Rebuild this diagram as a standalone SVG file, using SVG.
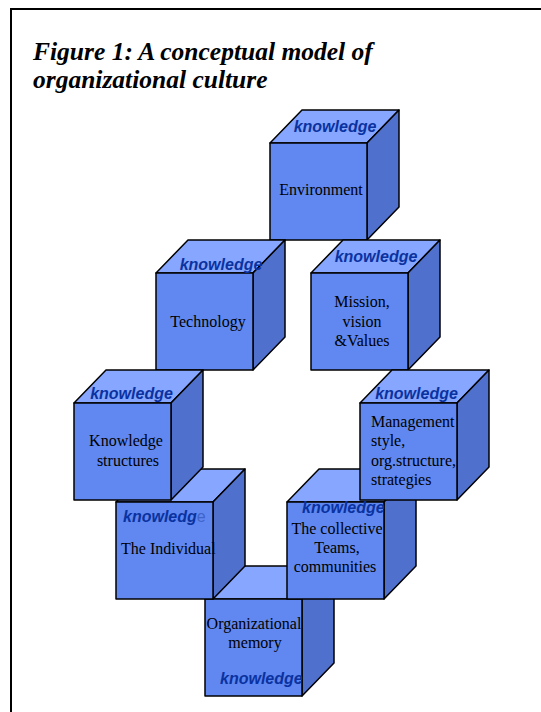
<svg xmlns="http://www.w3.org/2000/svg" xmlns:xlink="http://www.w3.org/1999/xlink" width="541" height="712" viewBox="0 0 541 712">
<style>
.front{fill:#6088f0;stroke:#000;stroke-width:1.5;stroke-linejoin:round}
.top{fill:#86a6ff;stroke:#000;stroke-width:1.5;stroke-linejoin:round}
.side{fill:#4f70cc;stroke:#000;stroke-width:1.5;stroke-linejoin:round}
.kn{font-family:"Liberation Sans",Arial,sans-serif;font-weight:bold;font-style:italic;font-size:16px;fill:#0a32a0}
.lbl{font-family:"Liberation Serif","Times New Roman",serif;font-size:16px;fill:#000}
.title{font-family:"Liberation Serif","Times New Roman",serif;font-weight:bold;font-style:italic;font-size:25.5px;fill:#000}
</style>
<defs>
<g id="cube">
<polygon class="top" points="0,0 32,-33 129,-33 97,0"/>
<polygon class="side" points="97,0 129,-33 129,64 97,97"/>
<rect class="front" x="0" y="0" width="97" height="97"/>
</g>
</defs>
<rect x="0" y="0" width="541" height="712" fill="#fff"/>
<path d="M11,712 V9 H541" fill="none" stroke="#000" stroke-width="2"/>
<g id="title">
<text class="title" x="33" y="60">Figure 1: A conceptual model of</text>
<text class="title" x="33" y="88">organizational culture</text>
</g>
<g id="environment">
<use xlink:href="#cube" x="270" y="143"/>
<text class="kn" x="335" y="132" text-anchor="middle">knowledge</text>
<text class="lbl" x="321" y="195" text-anchor="middle">Environment</text>
</g>
<g id="technology">
<use xlink:href="#cube" x="156" y="273"/>
<text class="kn" x="221" y="270" text-anchor="middle">knowledge</text>
<text class="lbl" x="208" y="327" text-anchor="middle">Technology</text>
</g>
<g id="mission">
<use xlink:href="#cube" x="311" y="273"/>
<text class="kn" x="376" y="262" text-anchor="middle">knowledge</text>
<text class="lbl" x="362" y="307" text-anchor="middle">Mission,</text>
<text class="lbl" x="362" y="327" text-anchor="middle">vision</text>
<text class="lbl" x="362" y="346" text-anchor="middle">&amp;Values</text>
</g>
<g id="organizational-memory">
<use xlink:href="#cube" x="205" y="599"/>
<text class="lbl" x="254" y="629" text-anchor="middle">Organizational</text>
<text class="lbl" x="255" y="648" text-anchor="middle">memory</text>
<text class="kn" x="220" y="684">knowledge</text>
</g>
<g id="individual">
<use xlink:href="#cube" x="116" y="502"/>
<text class="kn" x="123" y="522">knowledg<tspan style="font-weight:normal;font-style:normal;fill:#4063c8">e</tspan></text>
<text class="lbl" x="121" y="554">The Individual</text>
</g>
<g id="collective">
<use xlink:href="#cube" x="287" y="502"/>
<text class="kn" x="302" y="513">knowledge</text>
<text class="lbl" x="337" y="534" text-anchor="middle">The collective</text>
<text class="lbl" x="337" y="553" text-anchor="middle">Teams,</text>
<text class="lbl" x="335" y="572" text-anchor="middle">communities</text>
</g>
<g id="knowledge-structures">
<use xlink:href="#cube" x="74" y="403"/>
<text class="kn" x="131.5" y="399" text-anchor="middle">knowledge</text>
<text class="lbl" x="126" y="446" text-anchor="middle">Knowledge</text>
<text class="lbl" x="128" y="466" text-anchor="middle">structures</text>
</g>
<g id="management">
<use xlink:href="#cube" x="360" y="403"/>
<text class="kn" x="416.5" y="399" text-anchor="middle">knowledge</text>
<text class="lbl" x="371" y="427">Management</text>
<text class="lbl" x="371" y="446">style,</text>
<text class="lbl" x="371" y="466">org.structure,</text>
<text class="lbl" x="371" y="485">strategies</text>
</g>
</svg>
